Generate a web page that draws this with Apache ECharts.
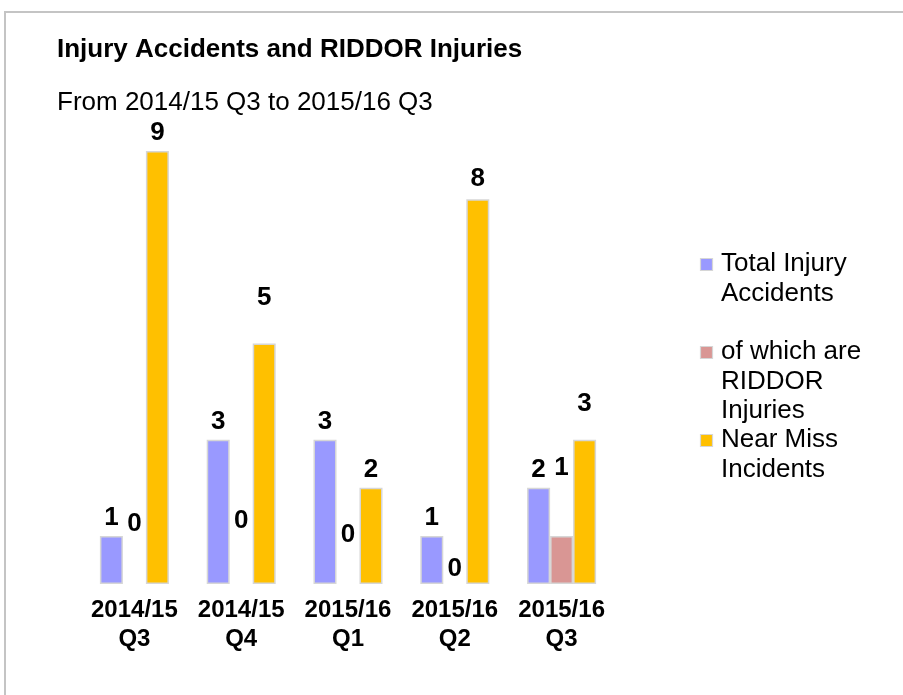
<!DOCTYPE html>
<html>
<head>
<meta charset="utf-8">
<script src="https://cdn.jsdelivr.net/npm/echarts@6/dist/echarts.min.js"></script>
<style>
html,body{margin:0;padding:0;background:#fff;}
#chart{width:903px;height:695px;}
</style>
</head>
<body>
<div id="chart"></div>
<script>
// ---- data ----
var categories = ['2014/15\nQ3', '2014/15\nQ4', '2015/16\nQ1', '2015/16\nQ2', '2015/16\nQ3'];
var seriesNames = ['Total Injury Accidents', 'of which are RIDDOR Injuries', 'Near Miss Incidents'];
var totalInjuryAccidents = [1, 3, 3, 1, 2];
var riddorInjuries = [0, 0, 0, 0, 1];
var nearMissIncidents = [9, 5, 2, 8, 3];
var titleText = 'Injury Accidents and RIDDOR Injuries';
var subtitleText = 'From 2014/15 Q3 to 2015/16 Q3';
var legendLabels = ['Total Injury\nAccidents', 'of which are\nRIDDOR\nInjuries', 'Near Miss\nIncidents'];

// ---- style ----
var FONT = '"Liberation Sans", Arial, sans-serif';
var colors = ['#9999ff', '#d99694', '#ffc000'];
var borderCol = '#d6d6d6';
// vertical nudges of data labels (px), to mimic the reference's label placement
var labelNudge = [
  [0, 0, 0, 0, 0],
  [-42, -45, -31, 3, -50],
  [0, -28, 0, -2, -18]
];
var legendLineCenters = [264, 352, 440];

function buildData(values, s) {
  return values.map(function (v, i) {
    var item = { value: v, label: { offset: [0, labelNudge[s][i]] } };
    if (v === 0) item.itemStyle = { borderWidth: 0 };
    return item;
  });
}

var seriesValues = [totalInjuryAccidents, riddorInjuries, nearMissIncidents];
var series = seriesValues.map(function (vals, s) {
  return {
    name: seriesNames[s],
    type: 'bar',
    barWidth: 23,
    barGap: '0%',
    barCategoryGap: '0%',
    data: buildData(vals, s),
    itemStyle: { color: colors[s], borderColor: borderCol, borderWidth: 1.5 },
    label: {
      show: true,
      position: 'top',
      distance: 5,
      fontFamily: FONT,
      fontSize: 26,
      fontWeight: 'bold',
      lineHeight: 26,
      color: '#000'
    },
    emphasis: { disabled: true },
    animation: false
  };
});

var graphics = [
  { type: 'rect', shape: { x: 5, y: 12, width: 1200, height: 1200 },
    style: { fill: 'none', stroke: '#c4c4c4', lineWidth: 2 }, silent: true }
];
legendLabels.forEach(function (txt, i) {
  var c = legendLineCenters[i];
  graphics.push({ type: 'rect', shape: { x: 700.5, y: c - 5.5, width: 12, height: 12 },
    style: { fill: colors[i], stroke: borderCol, lineWidth: 1.2 } });
  graphics.push({ type: 'text', x: 721, y: c - 14.75,
    style: { text: txt, font: '26px ' + FONT, fill: '#000', lineHeight: 29.5,
      verticalAlign: 'top', align: 'left' } });
});

var chart = echarts.init(document.getElementById('chart'), null, { renderer: 'canvas' });
chart.setOption({
  animation: false,
  backgroundColor: '#fff',
  title: [
    { text: titleText, left: 57, top: 35, padding: 0,
      textStyle: { fontFamily: FONT, fontSize: 26, fontWeight: 'bold', color: '#000', lineHeight: 30 } },
    { text: subtitleText, left: 57, top: 88, padding: 0,
      textStyle: { fontFamily: FONT, fontSize: 26, fontWeight: 'normal', color: '#000', lineHeight: 30 } }
  ],
  legend: { show: false },
  grid: { left: 81, width: 534, top: 103, bottom: 111 },
  xAxis: {
    type: 'category',
    data: categories,
    axisLine: { show: false },
    axisTick: { show: false },
    axisLabel: { margin: 12, fontFamily: FONT, fontSize: 24, fontWeight: 'bold', color: '#000', lineHeight: 29, interval: 0 }
  },
  yAxis: {
    type: 'value', min: 0, max: 10, interval: 1,
    show: false,
    splitLine: { show: false }
  },
  series: series,
  graphic: graphics
});
</script>
</body>
</html>
